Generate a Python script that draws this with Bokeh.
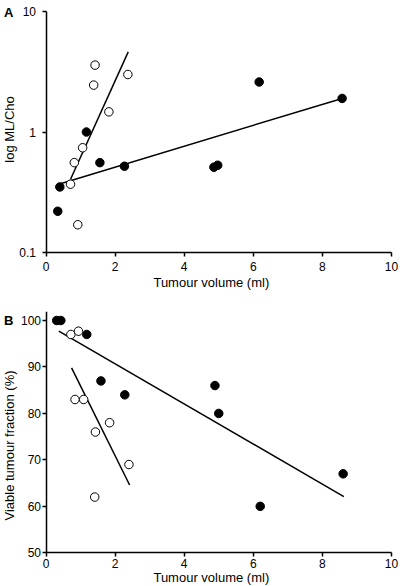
import math
from bokeh.plotting import figure
from bokeh.layouts import column
from bokeh.models import FixedTicker, Label
from bokeh.embed import file_html
from bokeh.resources import INLINE

# ---------------- data ----------------
x_ticks = [0, 2, 4, 6, 8, 10]
a_y_ticks = [0.1, 1, 10]
b_y_ticks = [50, 60, 70, 80, 90, 100]

# Panel A: log ML/Cho vs tumour volume
a_open_x = [1.42, 1.38, 2.37, 1.82, 1.06, 0.82, 0.71, 0.92]
a_open_y = [3.59, 2.45, 3.0, 1.47, 0.74, 0.557, 0.369, 0.17]
a_filled_x = [1.17, 1.56, 2.27, 0.40, 0.34, 6.17, 8.57, 4.86, 4.97]
a_filled_y = [1.0, 0.557, 0.52, 0.35, 0.22, 2.6, 1.9, 0.51, 0.53]
a_fit_open_x = [0.71, 2.38]
a_fit_open_y = [0.405, 4.62]
a_fit_filled_x = [0.37, 8.57]
a_fit_filled_y = [0.369, 1.9]

# Panel B: viable tumour fraction vs tumour volume
b_open_x = [0.72, 0.94, 0.84, 1.09, 1.43, 1.84, 2.40, 1.41]
b_open_y = [97, 97.7, 83, 83, 76, 78, 69, 62]
b_filled_x = [0.31, 0.43, 1.18, 1.59, 2.28, 4.89, 5.00, 8.60, 6.20]
b_filled_y = [100, 100, 97, 87, 84, 86, 80, 67, 60]
b_fit_open_x = [0.74, 2.42]
b_fit_open_y = [89.8, 64.6]
b_fit_filled_x = [0.37, 8.62]
b_fit_filled_y = [97.7, 62.1]

x_label = "Tumour volume (ml)"
a_y_label = "log ML/Cho"
b_y_label = "Viable tumour fraction (%)"

FONT = "Liberation Sans"
X_START = -1.317
X_END = 10.26


def style(p, yticks, ybounds, x_at, y_standoff, x_standoff):
    p.xgrid.visible = False
    p.ygrid.visible = False
    p.outline_line_color = None
    p.background_fill_color = "white"
    p.border_fill_color = "white"
    for ax in (p.xaxis[0], p.yaxis[0]):
        ax.axis_line_width = 1.5
        ax.axis_line_color = "black"
        ax.major_tick_line_width = 1.5
        ax.major_tick_line_color = "black"
        ax.major_tick_in = 0
        ax.major_tick_out = 4
        ax.minor_tick_line_color = None
        ax.major_label_text_font = FONT
        ax.major_label_text_font_size = "12px"
        ax.major_label_text_color = "black"
        ax.axis_label = None
    p.xaxis[0].ticker = FixedTicker(ticks=x_ticks, minor_ticks=[])
    p.yaxis[0].ticker = FixedTicker(ticks=yticks, minor_ticks=[])
    p.xaxis[0].bounds = (0, 10)
    p.yaxis[0].bounds = ybounds
    p.yaxis[0].fixed_location = 0
    p.xaxis[0].fixed_location = x_at
    p.yaxis[0].major_label_standoff = y_standoff
    p.xaxis[0].major_label_standoff = x_standoff


def text_label(p, text, x, y, angle=0.0, size="13px", bold=False):
    p.add_layout(Label(x=x, y=y, text=text, angle=angle, text_align="center",
                       text_baseline="middle", text_font=FONT,
                       text_font_size=size,
                       text_font_style="bold" if bold else "normal",
                       text_color="black"))


# ---------------- Panel A ----------------
pA = figure(width=400, height=290, y_axis_type="log",
            x_range=(X_START, X_END), y_range=(0.0484, 11.65),
            output_backend="svg", toolbar_location=None,
            min_border_left=0, min_border_right=0,
            min_border_top=3, min_border_bottom=0)
style(pA, a_y_ticks, (0.1, 10), 0.1, 6, 5)
pA.yaxis[0].major_label_overrides = {0.1: "0.1", 1: "1", 10: "10"}

pA.line(a_fit_open_x, a_fit_open_y, line_color="black", line_width=1.5)
pA.line(a_fit_filled_x, a_fit_filled_y, line_color="black", line_width=1.5)
pA.scatter(a_filled_x, a_filled_y, size=8.5, fill_color="black", line_color="black")
pA.scatter(a_open_x, a_open_y, size=8.5, fill_color="white", line_color="black", line_width=1)
text_label(pA, "A", -1.08, 9.72, bold=True)
text_label(pA, x_label, 4.785, 0.0564)
text_label(pA, a_y_label, -1.07, 1.05, angle=math.pi / 2)

# ---------------- Panel B ----------------
pB = figure(width=400, height=296,
            x_range=(X_START, X_END), y_range=(42.75, 101.94),
            output_backend="svg", toolbar_location=None,
            min_border_left=0, min_border_right=0,
            min_border_top=21, min_border_bottom=0)
style(pB, b_y_ticks, (50, 101.94), 50, 1, 2)

pB.line(b_fit_open_x, b_fit_open_y, line_color="black", line_width=1.5)
pB.line(b_fit_filled_x, b_fit_filled_y, line_color="black", line_width=1.5)
pB.scatter(b_filled_x, b_filled_y, size=8.5, fill_color="black", line_color="black")
pB.scatter(b_open_x, b_open_y, size=8.5, fill_color="white", line_color="black", line_width=1)
text_label(pB, "B", -1.08, 100, bold=True)
text_label(pB, x_label, 4.785, 44.68)
text_label(pB, b_y_label, -1.045, 73.1, angle=math.pi / 2)

layout = column(pA, pB)
open("out.html", "w").write(file_html(layout, INLINE))
